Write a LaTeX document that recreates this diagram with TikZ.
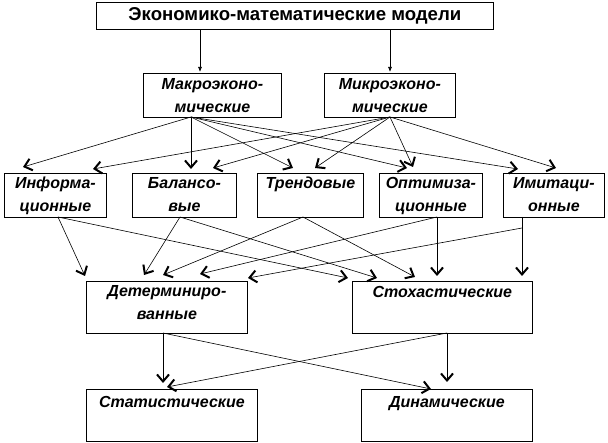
\documentclass[tikz,border=0pt]{standalone}
\usepackage{fontspec}
\setmainfont{Liberation Sans}
\usetikzlibrary{arrows.meta,calc}
\begin{document}
\begin{tikzpicture}[x=1pt,y=-1pt,
  box/.style={draw,line width=0.8pt,inner sep=0pt,anchor=north west},
  lbl/.style={anchor=north,inner sep=0pt,align=center,font=\fontsize{16}{23}\selectfont\bfseries\itshape},
  conn/.style={line width=0.6pt,-{Straight Barb[length=7pt,width=12pt,line width=2pt]}},
  downarr/.style={line width=0.7pt,-{Latex[length=5pt,width=4pt]}}]
\useasboundingbox (0,0) rectangle (608,443);
% boxes
\node[box,minimum width=397pt,minimum height=27pt] (top) at (96,2) {};
\node[box,minimum width=138pt,minimum height=44pt] (macro) at (143,73) {};
\node[box,minimum width=131pt,minimum height=44pt] (micro) at (324,73) {};
\node[box,minimum width=102pt,minimum height=44pt] (inf) at (4,173) {};
\node[box,minimum width=104pt,minimum height=44pt] (bal) at (132,173) {};
\node[box,minimum width=106pt,minimum height=44pt] (trend) at (257,173) {};
\node[box,minimum width=103pt,minimum height=44pt] (opt) at (379,173) {};
\node[box,minimum width=101pt,minimum height=44pt] (imit) at (503,173) {};
\node[box,minimum width=161pt,minimum height=52pt] (det) at (86,281) {};
\node[box,minimum width=180pt,minimum height=52pt] (stoch) at (352,281) {};
\node[box,minimum width=171pt,minimum height=52pt] (stat) at (86,389) {};
\node[box,minimum width=171pt,minimum height=52pt] (din) at (361,389) {};
% texts
\node[font=\fontsize{18.6}{20}\selectfont\bfseries,inner sep=0pt] (top-t) at (top.center) {Экономико-математические модели};
\node[lbl] (macro-t) at ($(macro.north)+(0,5)$) {Макроэконо-\\мические};
\node[lbl] (micro-t) at ($(micro.north)+(0,5)$) {Микроэконо-\\мические};
\node[lbl] (inf-t) at ($(inf.north)+(0,4)$) {Информа-\\ционные};
\node[lbl] (bal-t) at ($(bal.north)+(0,4)$) {Балансо-\\вые};
\node[lbl] (trend-t) at ($(trend.north)+(0,4)$) {Трендовые};
\node[lbl] (opt-t) at ($(opt.north)+(0,4)$) {Оптимиза-\\ционные};
\node[lbl] (imit-t) at ($(imit.north)+(0,4)$) {Имитаци-\\онные};
\node[lbl] (det-t) at ($(det.north)+(0,4)$) {Детерминиро-\\ванные};
\node[lbl] (stoch-t) at ($(stoch.north)+(0,5)$) {Стохастические};
\node[lbl] (stat-t) at ($(stat.north)+(0,7)$) {Статистические};
\node[lbl] (din-t) at ($(din.north)+(0,7)$) {Динамические};
% sources
\coordinate (macro-s) at ($(macro.north west)+(191-143,117-73)$);
\coordinate (micro-s) at ($(micro.north west)+(390-324,117-73)$);
\coordinate (inf-s) at ($(inf.north west)+(58-4,217-173)$);
\coordinate (bal-s) at ($(bal.north west)+(180-132,217-173)$);
\coordinate (trend-s) at ($(trend.north west)+(303-257,217-173)$);
\coordinate (opt-s) at ($(opt.north west)+(437-379,217-173)$);
\coordinate (imit-s) at ($(imit.north west)+(522-503,217-173)$);
\coordinate (imit-s2) at ($(imit.north west)+(522-503,228-173)$);
\coordinate (det-s) at ($(det.north west)+(163-86,333-281)$);
\coordinate (stoch-s) at ($(stoch.north west)+(447-352,333-281)$);
% top arrows
\draw[downarr] ($(top.south west)+(200-96,0)$) -- ($(macro.north west)+(200-143,-1)$);
\draw[downarr] ($(top.south west)+(390-96,0)$) -- ($(micro.north west)+(390-324,-1)$);
% macro fan
\draw[conn] (macro-s) -- ($(inf.north west)+(23-4,167-173)$);
\draw[conn] (macro-s) -- ($(bal.north west)+(191-132,169-173)$);
\draw[conn] (macro-s) -- ($(trend.north west)+(293-257,168-173)$);
\draw[conn] (macro-s) -- ($(opt.north west)+(407-379,168-173)$);
\draw[conn] (macro-s) -- ($(imit.north west)+(518-503,169-173)$);
% micro fan
\draw[conn] (micro-s) -- ($(inf.north west)+(93-4,169-173)$);
\draw[conn] (micro-s) -- ($(bal.north west)+(213-132,168-173)$);
\draw[conn] (micro-s) -- ($(trend.north west)+(315-257,168-173)$);
\draw[conn] (micro-s) -- ($(opt.north west)+(413-379,167-173)$);
\draw[conn] (micro-s) -- ($(imit.north west)+(556-503,168-173)$);
% row 3 to row 4
\draw[conn] (inf-s) -- ($(det.north west)+(85-86,276-281)$);
\draw[conn] (inf-s) -- ($(stoch.north west)+(348-352,278-281)$);
\draw[conn] (bal-s) -- ($(det.north west)+(144-86,275-281)$);
\draw[conn] (bal-s) -- ($(stoch.north west)+(377-352,278-281)$);
\draw[conn] (trend-s) -- ($(det.north west)+(163-86,275-281)$);
\draw[conn] (trend-s) -- ($(stoch.north west)+(415-352,277-281)$);
\draw[conn] (opt-s) -- ($(det.north west)+(200-86,274-281)$);
\draw[conn] (opt-s) -- ($(stoch.north west)+(437-352,276-281)$);
\draw[conn] (imit-s2) -- ($(det.north west)+(248-86,278-281)$);
\draw[conn] (imit-s) -- ($(stoch.north west)+(522-352,276-281)$);
% row 4 to row 5
\draw[conn] (det-s) -- ($(stat.north west)+(163-86,383-389)$);
\draw[conn] (det-s) -- ($(din.north west)+(431-361,389-389)$);
\draw[conn] (stoch-s) -- ($(din.north west)+(447-361,382-389)$);
\draw[conn] (stoch-s) -- ($(stat.north west)+(167-86,387-389)$);
\end{tikzpicture}
\end{document}
